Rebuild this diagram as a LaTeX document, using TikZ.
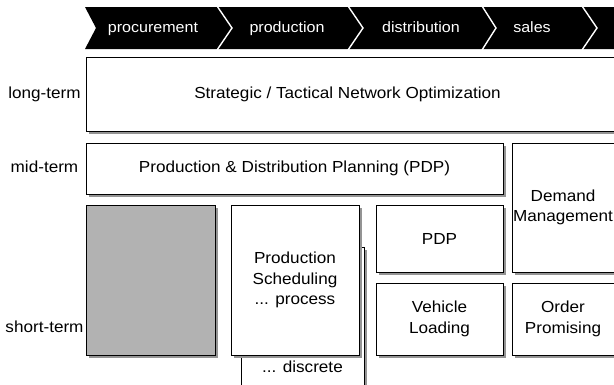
\documentclass[tikz,border=0pt]{standalone}
\usepackage{fontspec}
\setmainfont[FakeStretch=1.07]{Liberation Sans}
\usetikzlibrary{shadows}
\begin{document}
\begin{tikzpicture}[x=1pt,y=-1pt,
  txt/.style={font=\fontsize{16}{20.5}\selectfont, align=center, inner sep=0pt},
  box/.style={txt, draw=black, line width=0.8pt, fill=white,
    drop shadow={shadow xshift=3pt, shadow yshift=-3pt, opacity=1, fill=black!42}},
  graybox/.style={box, fill=black!30},
  chev/.style={font=\fontsize{15}{18}\selectfont, text=white, inner sep=0pt,
    text height=11pt, text depth=3.5pt},
  divider/.style={draw=white, line width=1.4pt},
  lbl/.style={txt, text height=11.5pt, text depth=3.5pt}]
\useasboundingbox (0,0) rectangle (614,384);
\clip (0,0) rectangle (614,384);
% chevron bar
\fill[black] (85,7) -- (620,7) -- (620,49) -- (85,49) -- (96,28) -- cycle;
\draw[divider] (217,6) -- (232,28) -- (217,50);
\draw[divider] (348,6) -- (363,28) -- (348,50);
\draw[divider] (482,6) -- (496,28) -- (482,50);
\draw[divider] (582,6) -- (597,28) -- (582,50);
\node[chev] (c1) at (153,28.5) {procurement};
\node[chev] (c2) at (287,28.5) {production};
\node[chev] (c3) at (421,28.5) {distribution};
\node[chev] (c4) at (532,28.5) {sales};
% row labels
\node[lbl] (lt) at (44.5,94) {long-term};
\node[lbl] (mt) at (44.5,168.5) {mid-term};
\node[lbl] (st) at (44.5,328) {short-term};
% boxes
\node[box, minimum width=544pt, minimum height=74pt] (long) at (358,94) {};
\node[lbl] (longt) at (347.5,94) {Strategic / Tactical Network Optimization};
\node[box, minimum width=417pt, minimum height=51pt] (mid) at (294.5,168.5) {};
\node[lbl] (midt) at (294.5,168.5) {Production \& Distribution Planning (PDP)};
\node[box, minimum width=118pt, minimum height=129pt] (dem) at (571,207.5) {};
\node[txt] (demt) at (563,207.5) {Demand\\Management};
\node[graybox, minimum width=129pt, minimum height=150pt] (gray) at (150.5,280) {};
\node[box, minimum width=123pt, minimum height=153pt] (disc) at (302.5,323.5) {};
\node[lbl] (disct) at (302.5,368) {... discrete};
\node[box, minimum width=128pt, minimum height=150pt] (sched) at (295,280) {Production\\Scheduling\\... process};
\node[box, minimum width=127pt, minimum height=67pt] (pdp) at (439.5,238.5) {PDP};
\node[box, minimum width=127pt, minimum height=72pt] (veh) at (439.5,319) {Vehicle\\Loading};
\node[box, minimum width=118pt, minimum height=72pt] (ord) at (571,319) {};
\node[txt] (ordt) at (563,319) {Order\\Promising};
\end{tikzpicture}
\end{document}
